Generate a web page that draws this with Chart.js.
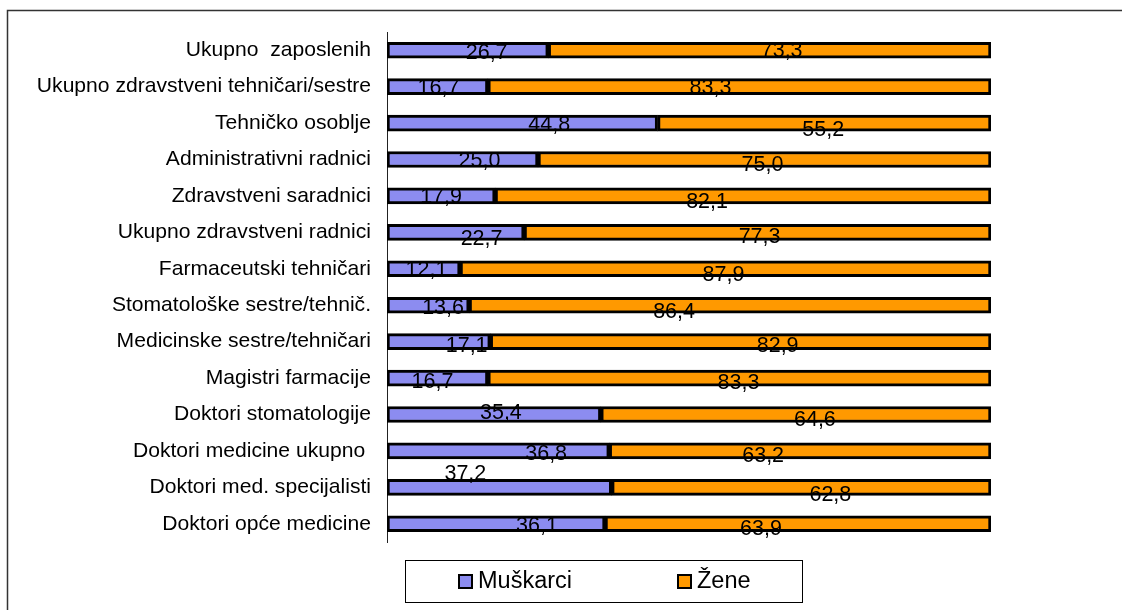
<!DOCTYPE html>
<html>
<head>
<meta charset="utf-8">
<script src="https://cdn.jsdelivr.net/npm/chart.js@4.4.1/dist/chart.umd.min.js"></script>
<style>
  html, body { margin: 0; padding: 0; background: #fff; }
  #wrap { width: 1122px; height: 610px; }
</style>
</head>
<body>
<div id="wrap"><canvas id="chart" width="1122" height="610"></canvas></div>
<script>
const categories = [
    "Ukupno  zaposlenih",
    "Ukupno zdravstveni tehničari/sestre",
    "Tehničko osoblje",
    "Administrativni radnici",
    "Zdravstveni saradnici",
    "Ukupno zdravstveni radnici",
    "Farmaceutski tehničari",
    "Stomatološke sestre/tehnič.",
    "Medicinske sestre/tehničari",
    "Magistri farmacije",
    "Doktori stomatologije",
    "Doktori medicine ukupno ",
    "Doktori med. specijalisti",
    "Doktori opće medicine"
];
const muskarci = [26.7, 16.7, 44.8, 25.0, 17.9, 22.7, 12.1, 13.6, 17.1, 16.7, 35.4, 36.8, 37.2, 36.1];
const zene = [73.3, 83.3, 55.2, 75.0, 82.1, 77.3, 87.9, 86.4, 82.9, 83.3, 64.6, 63.2, 62.8, 63.9];
const seriesNames = ["Muškarci", "Žene"];
const seriesColors = ["#8c8cf0", "#ff9900"];

// label nudges in px (the source chart has labels scattered off-centre)
const nudgeM = [[19, 1], [1, 0], [27, 0], [17, 0], [0, 0], [26, 5], [3, 0], [15, 1], [28, 3], [-5, 2], [7, -3], [48, 2], [-34, -15], [41, 1]];
const nudgeZ = [[12, -1], [-29, 0], [-1, 5], [-2, 4], [-36, 5], [2, 3], [-2, 5], [-56, 5], [37, 3], [-1, 3], [19, 4], [-37, 4], [29, 6], [-37, 4]];

const FONT = "'Liberation Sans', Arial, sans-serif";

function fmt(v) {
    return v.toFixed(1).replace(".", ",");
}

const labelsPlugin = {
    id: "labels",
    afterDatasetsDraw(chart) {
        const ctx = chart.ctx;
        ctx.save();
        ctx.font = "21.5px " + FONT;
        ctx.fillStyle = "#000";
        ctx.textAlign = "center";
        ctx.textBaseline = "alphabetic";
        [nudgeM, nudgeZ].forEach((nudge, di) => {
            const meta = chart.getDatasetMeta(di);
            const data = chart.data.datasets[di].data;
            meta.data.forEach((bar, i) => {
                const cx = (bar.x + bar.base) / 2;
                ctx.fillText(fmt(data[i]), cx + nudge[i][0], bar.y + 7.5 + nudge[i][1]);
            });
        });
        ctx.restore();
    },
    afterDraw(chart) {
        const ctx = chart.ctx;
        ctx.save();
        // outer frame
        ctx.strokeStyle = "#333";
        ctx.lineWidth = 1.5;
        ctx.strokeRect(7.5, 10.5, 1200, 700);
        // legend
        ctx.strokeStyle = "#000";
        ctx.lineWidth = 1;
        ctx.strokeRect(405.5, 560.5, 397, 42);
        const items = [458, 677];
        ctx.font = "23.5px " + FONT;
        ctx.textBaseline = "middle";
        ctx.textAlign = "left";
        items.forEach((x, i) => {
            ctx.fillStyle = seriesColors[i];
            ctx.fillRect(x, 574, 15, 15);
            ctx.lineWidth = 2;
            ctx.strokeStyle = "#000";
            ctx.strokeRect(x + 1, 575, 13, 13);
            ctx.fillStyle = "#000";
            ctx.fillText(seriesNames[i], x + 20, 582);
        });
        ctx.restore();
    }
};

new Chart(document.getElementById("chart"), {
    type: "bar",
    data: {
        labels: categories,
        datasets: [
            { label: seriesNames[0], data: muskarci, backgroundColor: seriesColors[0] },
            { label: seriesNames[1], data: zene, backgroundColor: seriesColors[1] }
        ].map(d => Object.assign(d, {
            borderColor: "#000",
            borderWidth: 3,
            borderSkipped: false,
            barThickness: 16
        }))
    },
    options: {
        indexAxis: "y",
        responsive: false,
        animation: false,
        layout: { padding: { top: 32, bottom: 68, right: 131, left: 0 } },
        scales: {
            x: { stacked: true, display: false, min: 0, max: 100 },
            y: {
                stacked: true,
                grid: { display: false, drawTicks: false },
                border: { display: true, color: "#222", width: 1 },
                ticks: { color: "#000", font: { size: 21.1, family: FONT }, padding: 16, autoSkip: false },
                afterFit(scale) { scale.width = 387; }
            }
        },
        plugins: {
            legend: { display: false },
            tooltip: { enabled: false }
        }
    },
    plugins: [labelsPlugin]
});
</script>
</body>
</html>
